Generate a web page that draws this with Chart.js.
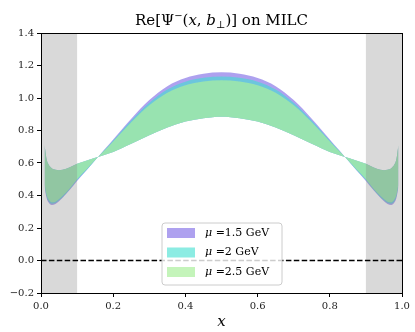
<!DOCTYPE html>
<html><head><meta charset="utf-8">
<script src="https://cdn.jsdelivr.net/npm/chart.js@4.4.0/dist/chart.umd.min.js"></script>
<style>html,body{margin:0;padding:0;background:#fff;}canvas{display:block;}</style>
</head><body>
<canvas id="c" width="415" height="332"></canvas>
<script>
// ---- data ----
const xValues = [0.01,0.015,0.02,0.03,0.04,0.05,0.06,0.08,0.10,0.125,0.15,0.175,0.20,0.25,0.30,0.35,0.40,0.45,0.50,
                 0.55,0.60,0.65,0.70,0.75,0.80,0.825,0.85,0.875,0.90,0.92,0.94,0.95,0.96,0.97,0.98,0.985,0.99];
// edge that is on top at small x and at the bottom in the middle (shared by all bands)
const edgeA   = [0.71,0.63,0.595,0.568,0.558,0.556,0.558,0.574,0.595,0.614,0.632,0.65,0.668,0.718,0.771,0.819,0.855,0.876,0.885,
                 0.876,0.855,0.819,0.771,0.718,0.668,0.65,0.632,0.614,0.595,0.574,0.558,0.556,0.558,0.568,0.595,0.63,0.71];
// other edge for each scale
const purpleB = [0.45,0.39,0.36,0.342,0.347,0.365,0.386,0.435,0.49,0.552,0.617,0.681,0.745,0.873,0.987,1.073,1.123,1.149,1.158,
                 1.149,1.123,1.073,0.987,0.873,0.745,0.681,0.617,0.552,0.49,0.435,0.386,0.365,0.347,0.342,0.36,0.39,0.45];
const cyanB   = [0.46,0.40,0.37,0.35,0.354,0.371,0.391,0.44,0.495,0.554,0.617,0.678,0.739,0.862,0.971,1.052,1.100,1.124,1.132,
                 1.124,1.100,1.052,0.971,0.862,0.739,0.678,0.617,0.554,0.495,0.44,0.391,0.371,0.354,0.35,0.37,0.40,0.46];
const greenB  = [0.47,0.41,0.38,0.358,0.362,0.378,0.398,0.445,0.50,0.558,0.618,0.675,0.733,0.851,0.955,1.033,1.079,1.102,1.11,
                 1.102,1.079,1.033,0.955,0.851,0.733,0.675,0.618,0.558,0.50,0.445,0.398,0.378,0.362,0.358,0.38,0.41,0.47];
const muValues = ['1.5','2','2.5'];
const xTicks = [0.0,0.2,0.4,0.6,0.8,1.0];
const yTicks = [-0.2,0.0,0.2,0.4,0.6,0.8,1.0,1.2,1.4];
const shadedRanges = [[0.0,0.1],[0.9,1.0]];
const refLineY = 0;

// ---- styling ----
const bandColors = ['rgba(130,110,230,0.65)','rgba(64,224,208,0.6)','rgba(171,240,157,0.7)'];
const bandOrders = [3,2,1];
const SERIF = '"DejaVu Serif", "Liberation Serif", serif';

function pts(ys){ return xValues.map((x,i)=>({x:x, y:ys[i]})); }
const bandEdges = [purpleB, cyanB, greenB];
const datasets = [];
bandEdges.forEach((b,k)=>{
  datasets.push({label:'μ =' + muValues[k] + ' GeV', data:pts(b), fill:false, borderWidth:0, pointRadius:0,
    cubicInterpolationMode:'monotone', order:bandOrders[k], borderColor:'rgba(0,0,0,0)'});
  datasets.push({label:'_edge'+k, data:pts(edgeA), fill:'-1', backgroundColor:bandColors[k], borderWidth:0, pointRadius:0,
    cubicInterpolationMode:'monotone', order:bandOrders[k], borderColor:'rgba(0,0,0,0)'});
});
const dashIndex = datasets.length;
datasets.push({label:'_zero', data:[{x:0,y:refLineY},{x:1,y:refLineY}], borderColor:'#000', borderWidth:1.5,
  borderDash:[5.5,2.4], pointRadius:0, fill:false, order:0});

const decor = {
  id:'decor',
  beforeDatasetDraw(chart, args){
    if (args.index !== dashIndex) return;
    const {ctx, chartArea:a, scales:{x}} = chart;
    ctx.save();
    ctx.fillStyle = 'rgba(128,128,128,0.3)';
    shadedRanges.forEach(r=>{
      const x0 = x.getPixelForValue(r[0]), x1 = x.getPixelForValue(r[1]);
      ctx.fillRect(x0, a.top, x1-x0, a.bottom-a.top);
    });
    ctx.restore();
  },
  afterDraw(chart){
    const {ctx, chartArea:a} = chart;
    ctx.save();
    // frame
    ctx.strokeStyle = '#000'; ctx.lineWidth = 1;
    ctx.strokeRect(Math.round(a.left)+0.5, Math.round(a.top)+0.5, Math.round(a.right-a.left), Math.round(a.bottom-a.top));
    // title with mixed fonts
    const segs = [
      {t:'Re[Ψ', f:'15px '+SERIF, dy:0},
      {t:'−', f:'10px '+SERIF, dy:-6},
      {t:'(', f:'15px '+SERIF, dy:0},
      {t:'x', f:'italic 15px '+SERIF, dy:0},
      {t:', ', f:'15px '+SERIF, dy:0},
      {t:'b', f:'italic 15px '+SERIF, dy:0},
      {t:'⊥', f:'10px '+SERIF, dy:3},
      {t:')] on MILC', f:'15px '+SERIF, dy:0}
    ];
    let total = 0;
    segs.forEach(s=>{ ctx.font = s.f; s.w = ctx.measureText(s.t).width; total += s.w; });
    let cx = (a.left + a.right)/2 - total/2;
    ctx.fillStyle = '#000'; ctx.textBaseline = 'alphabetic'; ctx.textAlign = 'left';
    segs.forEach(s=>{ ctx.font = s.f; ctx.fillText(s.t, cx, 25 + s.dy); cx += s.w; });
    // x axis label
    ctx.font = 'italic 15px '+SERIF; ctx.textAlign = 'center';
    ctx.fillText('x', (a.left+a.right)/2, 326);
    // legend
    const lx = 162, ly = 223, lw = 120, lh = 62, r = 3;
    ctx.beginPath();
    ctx.moveTo(lx+r, ly); ctx.lineTo(lx+lw-r, ly); ctx.quadraticCurveTo(lx+lw, ly, lx+lw, ly+r);
    ctx.lineTo(lx+lw, ly+lh-r); ctx.quadraticCurveTo(lx+lw, ly+lh, lx+lw-r, ly+lh);
    ctx.lineTo(lx+r, ly+lh); ctx.quadraticCurveTo(lx, ly+lh, lx, ly+lh-r);
    ctx.lineTo(lx, ly+r); ctx.quadraticCurveTo(lx, ly, lx+r, ly); ctx.closePath();
    ctx.fillStyle = 'rgba(255,255,255,0.8)'; ctx.fill();
    ctx.strokeStyle = '#cccccc'; ctx.lineWidth = 1; ctx.stroke();
    muValues.forEach((m,k)=>{
      const cy = 233 + k*19.5;
      ctx.fillStyle = bandColors[k];
      ctx.fillRect(167, cy-5, 28, 10);
      ctx.fillStyle = '#000'; ctx.textAlign='left'; ctx.textBaseline='middle';
      ctx.font = 'italic 11px '+SERIF;
      ctx.fillText('μ', 205, cy);
      const w = ctx.measureText('μ').width;
      ctx.font = '11px '+SERIF;
      ctx.fillText(' =' + m + ' GeV', 205 + w, cy);
    });
    ctx.restore();
  }
};

new Chart(document.getElementById('c'), {
  type:'line',
  data:{datasets:datasets},
  options:{
    responsive:false, animation:false, devicePixelRatio:1,
    layout:{padding:{top:33, right:13, left:0, bottom:0}},
    plugins:{legend:{display:false}, title:{display:false}, tooltip:{enabled:false}},
    scales:{
      x:{type:'linear', min:0, max:1,
         afterFit(s){ s.height = 39; },
         afterBuildTicks(s){ s.ticks = xTicks.map(v=>({value:v})); },
         grid:{display:true, drawOnChartArea:false, drawTicks:true, tickLength:4, color:'#000', lineWidth:1},
         border:{display:true, color:'#000', width:1},
         ticks:{color:'#222', padding:3, font:{family:SERIF, size:10}, maxRotation:0,
                callback:v=>Number(v).toFixed(1).replace('-','−')}},
      y:{type:'linear', min:-0.2, max:1.4,
         afterFit(s){ s.width = 41; },
         afterBuildTicks(s){ s.ticks = yTicks.map(v=>({value:v})); },
         grid:{display:true, drawOnChartArea:false, drawTicks:true, tickLength:4, color:'#000', lineWidth:1},
         border:{display:true, color:'#000', width:1},
         ticks:{color:'#222', padding:3, font:{family:SERIF, size:10},
                callback:v=>Number(v).toFixed(1).replace('-','−')}}
    }
  },
  plugins:[decor]
});
</script>
</body></html>
